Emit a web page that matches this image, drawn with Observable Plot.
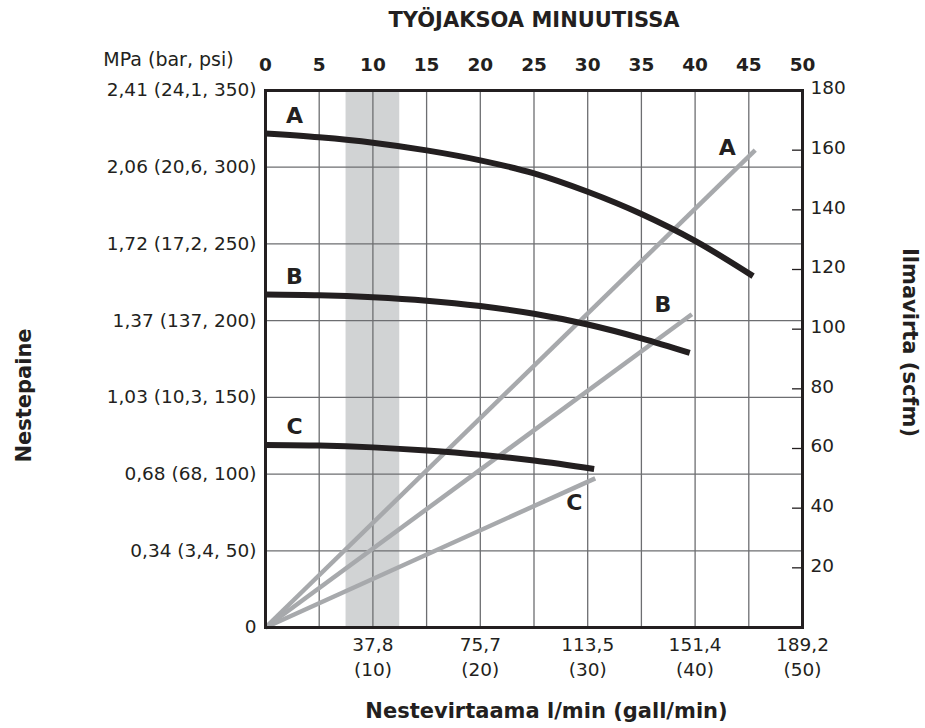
<!DOCTYPE html>
<html>
<head>
<meta charset="utf-8">
<script src="https://cdn.jsdelivr.net/npm/d3@7"></script>
<script src="https://cdn.jsdelivr.net/npm/@observablehq/plot@0.6"></script>
<style>
  html, body { margin: 0; padding: 0; background: #fff; }
  #chart svg { display: block; }
</style>
</head>
<body>
<div id="chart"></div>
<script>
// ---- texts ----
const topTitle = "TYÖJAKSOA MINUUTISSA";
const bottomTitle = "Nestevirtaama l/min (gall/min)";
const leftTitle = "Nestepaine";
const rightTitle = "Ilmavirta (scfm)";
const leftUnit = "MPa (bar, psi)";

// ---- ticks ----
const cycleTicks = [0, 5, 10, 15, 20, 25, 30, 35, 40, 45, 50];
const psiTicks = [0, 50, 100, 150, 200, 250, 300, 350];
const psiLabels = ["0", "0,34 (3,4, 50)", "0,68 (68, 100)", "1,03 (10,3, 150)",
  "1,37 (137, 200)", "1,72 (17,2, 250)", "2,06 (20,6, 300)", "2,41 (24,1, 350)"];
const gpmTicks = [10, 20, 30, 40, 50];
const lpmLabels = ["37,8", "75,7", "113,5", "151,4", "189,2"];
const scfmTicks = [20, 40, 60, 80, 100, 120, 140, 160, 180];
const scfmMax = 180;
const psiMax = 350;
const shadedBand = [7.5, 12.5];

// ---- series ----
const seriesNames = ["A", "B", "C"];
// fluid pressure (psi) vs flow (gpm)
const flowA = [0, 5, 10, 15, 20, 25, 30, 35, 40, 45.4];
const pressureA = [322, 319.5, 316, 311, 304.5, 296, 284, 269.5, 252, 229];
const flowB = [0, 5, 10, 15, 20, 25, 30, 35, 39.5];
const pressureB = [217, 216.5, 215.2, 213, 209.5, 204.5, 197.5, 188.5, 179];
const flowC = [0, 5, 10, 15, 20, 25, 30.6];
const pressureC = [119, 118.6, 117.4, 115.4, 112.6, 108.8, 103.3];
// air consumption (scfm) vs flow (gpm): straight lines from origin
const airFlow = { A: [0, 45.6], B: [0, 39.7], C: [0, 30.7] };
const airScfm = { A: [0, 160], B: [0, 105], C: [0, 50] };

// ---- tables ----
const pressureFlows = { A: flowA, B: flowB, C: flowC };
const pressures = { A: pressureA, B: pressureB, C: pressureC };
const pressureRows = seriesNames.flatMap(s =>
  pressureFlows[s].map((f, i) => ({ series: s, flow: f, psi: pressures[s][i] })));
const airRows = seriesNames.flatMap(s =>
  airFlow[s].map((f, i) => ({ series: s, flow: f, scfm: airScfm[s][i] })));
const k = psiMax / scfmMax; // right axis shares the frame
const pressureStarts = seriesNames.map(s => pressureRows.find(d => d.series === s));
const airEnds = seriesNames.map(s => airRows.filter(d => d.series === s).at(-1));

const ink = "#231f20";
const airLabelOffsets = { A: [-28, -2], B: [-29, -9], C: [-21, 25] };

const chart = Plot.plot({
  width: 925,
  height: 728,
  marginLeft: 265,
  marginRight: 123,
  marginTop: 90,
  marginBottom: 101,
  x: { domain: [0, 50], axis: null },
  y: { domain: [0, psiMax], axis: null },
  style: { fontFamily: "DejaVu Sans", fontSize: "18.5px", color: ink, background: "#fff" },
  marks: [
    Plot.rect([shadedBand], { x1: d => d[0], x2: d => d[1], fill: "#d1d3d4" }),
    Plot.ruleX(cycleTicks.slice(1, -1), { stroke: "#6d6e71", strokeWidth: 1.3 }),
    Plot.ruleY(psiTicks.slice(1, -1), { stroke: "#6d6e71", strokeWidth: 1.3 }),
    Plot.ruleY(scfmTicks.slice(0, -1), { y: d => d * k, x1: 49.07, x2: 50, stroke: ink, strokeWidth: 1.3 }),
    Plot.line(airRows, { x: "flow", y: d => d.scfm * k, z: "series", stroke: "#a7a9ac", strokeWidth: 4.5, strokeLinecap: "butt" }),
    Plot.line(pressureRows, { x: "flow", y: "psi", z: "series", curve: "monotone-x", stroke: ink, strokeWidth: 6, strokeLinecap: "butt" }),
    Plot.frame({ stroke: ink, strokeWidth: 3 }),
    // top axis (cycles per minute)
    Plot.text(cycleTicks, { x: d => d, text: d => String(d), frameAnchor: "top", lineAnchor: "middle", textAnchor: "middle", dy: -25, fontWeight: "bold", fontSize: 18.5 }),
    Plot.text([topTitle], { frameAnchor: "top", textAnchor: "middle", lineAnchor: "middle", dy: -70, fontWeight: "bold", fontSize: 21 }),
    // left axis
    Plot.text(psiTicks, { y: d => d, text: (d, i) => psiLabels[i], frameAnchor: "left", textAnchor: "end", lineAnchor: "middle", dx: -9 }),
    Plot.text([leftUnit], { frameAnchor: "top-left", textAnchor: "middle", lineAnchor: "middle", dx: -97, dy: -31, fontSize: 19 }),
    Plot.text([leftTitle], { frameAnchor: "left", textAnchor: "middle", lineAnchor: "middle", rotate: -90, dx: -241, dy: 36.5, fontWeight: "bold", fontSize: 21 }),
    // right axis
    Plot.text(scfmTicks, { y: d => d * k, text: d => String(d), frameAnchor: "right", textAnchor: "start", lineAnchor: "middle", dx: 8, dy: -2 }),
    Plot.text([rightTitle], { frameAnchor: "right", textAnchor: "middle", lineAnchor: "middle", rotate: 90, dx: 107, dy: -16.5, fontWeight: "bold", fontSize: 21 }),
    // bottom axis
    Plot.text(gpmTicks, { x: d => d, text: (d, i) => `${lpmLabels[i]}\n(${d})`, frameAnchor: "bottom", textAnchor: "middle", lineAnchor: "top", dy: 6, lineHeight: 1.35 }),
    Plot.text([bottomTitle], { frameAnchor: "bottom", textAnchor: "middle", lineAnchor: "middle", dx: 12.5, dy: 84, fontWeight: "bold", fontSize: 21 }),
    // curve labels
    Plot.text(pressureStarts, { x: "flow", y: "psi", text: "series", dx: 29, dy: -18, fontWeight: "bold", fontSize: 22 }),
    ...airEnds.map(d => Plot.text([d], { x: "flow", y: e => e.scfm * k, text: "series",
      dx: airLabelOffsets[d.series][0], dy: airLabelOffsets[d.series][1], fontWeight: "bold", fontSize: 22 }))
  ]
});
document.getElementById("chart").append(chart);
</script>
</body>
</html>
